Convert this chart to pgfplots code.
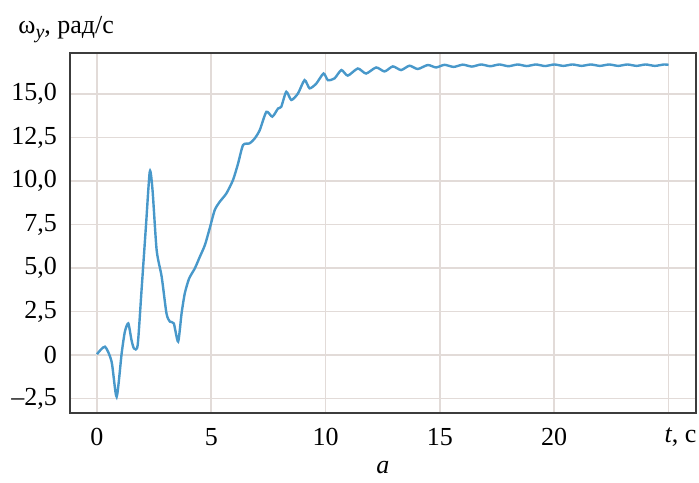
\documentclass[border=0pt]{standalone}
\usepackage{fontspec}
\setmainfont{Liberation Serif}
\usepackage{pgfplots}
\pgfplotsset{compat=1.18}
\definecolor{curve}{RGB}{72,152,202}
\definecolor{gridc}{RGB}{226,219,216}
\definecolor{framec}{RGB}{60,60,60}
\begin{document}
\fontsize{13}{15.6}\selectfont
\begin{tikzpicture}
\begin{axis}[
  scale only axis, width=313pt, height=180pt,
  xmin=-1.18, xmax=26.2, ymin=-3.33, ymax=17.36,
  xtick={0,5,10,15,20,25},
  xticklabels={0,5,10,15,20,{\hspace*{12pt}\textit{t}, с}},
  ytick={-2.5,0,2.5,5,7.5,10,12.5,15},
  yticklabels={{–2,5},0,{2,5},{5,0},{7,5},{10,0},{12,5},{15,0}},
  major tick length=0,
  grid=major,
  major grid style={gridc, line width=0.8pt},
  axis line style={framec, line width=0.75pt},
  ticklabel style={font=\fontsize{13}{15.6}\selectfont},
  yticklabel style={xshift=-2pt},
  xticklabel style={yshift=-3pt},
]
\addplot[curve, line width=1.2pt, smooth, tension=0.4] coordinates {
(0,0.05) (0.35,0.48) (0.64,-0.38) (0.86,-2.4) (1.08,0.1) (1.22,1.34) (1.37,1.82)
(1.51,0.86) (1.62,0.38) (1.78,0.57) (1.95,3.74) (2.14,7.37) (2.31,10.55) (2.43,9.48)
(2.61,6.03) (2.83,4.5) (3.04,2.39) (3.19,1.92) (3.36,1.82) (3.55,0.77) (3.70,2.39)
(3.84,3.54) (4.03,4.4) (4.28,4.98) (4.5,5.65) (4.72,6.32) (4.93,7.28) (5.15,8.33)
(5.37,8.81) (5.66,9.29) (5.95,10.06) (6.17,11.0) (6.39,12.07) (6.68,12.17) (6.9,12.45)
(7.12,12.93) (7.41,13.98) (7.67,13.7) (7.92,14.17) (8.06,14.27) (8.28,15.13) (8.5,14.66)
(8.79,15.03) (9.08,15.8) (9.3,15.33) (9.59,15.6) (9.91,16.18) (10.1,15.8) (10.39,15.9)
(10.69,16.38) (10.97,16.06) (11.41,16.47) (11.77,16.18) (12.21,16.53) (12.58,16.3)
(12.94,16.59) (13.3,16.38) (13.67,16.63) (14.03,16.44) (14.47,16.67) (14.83,16.53)
(15.2,16.68) (15.6,16.56) (16.0,16.69) (16.4,16.58) (16.8,16.70) (17.2,16.60)
(17.6,16.70) (18.0,16.60) (18.4,16.70) (18.8,16.61) (19.2,16.70) (19.6,16.61)
(20.0,16.70) (20.4,16.62) (20.8,16.70) (21.2,16.62) (21.6,16.70) (22.0,16.62)
(22.4,16.70) (22.8,16.62) (23.2,16.70) (23.6,16.62) (24.0,16.70) (24.4,16.62)
(24.8,16.70) (25.0,16.68)
};
\end{axis}
\node[anchor=base west, inner sep=0] at ([shift={(-26pt,10pt)}]current axis.north west)
  {ω\raisebox{-0.45ex}{\fontsize{10}{12}\selectfont\textit{y}}, рад/с};
\node[anchor=base, inner sep=0] at ([yshift=-30.5pt]current axis.south) {\textit{а}};
\pgfresetboundingbox
\path ([shift={(-35pt,-35pt)}]current axis.south west) rectangle ([shift={(1.5pt,26.5pt)}]current axis.north east);
\end{tikzpicture}
\end{document}
